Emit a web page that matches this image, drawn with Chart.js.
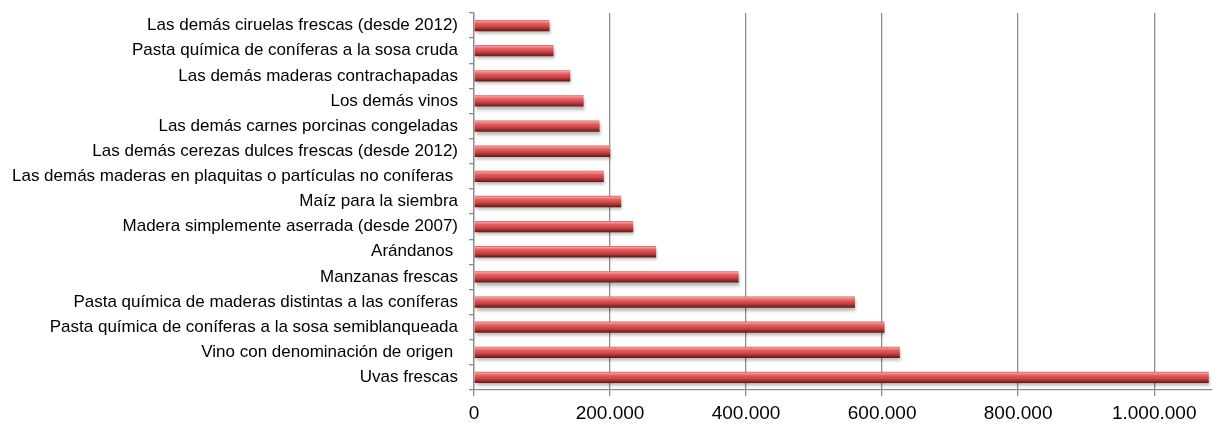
<!DOCTYPE html>
<html>
<head>
<meta charset="utf-8">
<script src="https://cdn.jsdelivr.net/npm/chart.js@4/dist/chart.umd.min.js"></script>
<style>
html,body{margin:0;padding:0;background:#fff;overflow:hidden;}
#wrap{width:1214px;height:426px;position:relative;}
</style>
</head>
<body>
<div id="wrap"><canvas id="c"></canvas></div>
<script>
const categories = [
  "Las demás ciruelas frescas (desde 2012)",
  "Pasta química de coníferas a la sosa cruda",
  "Las demás maderas contrachapadas",
  "Los demás vinos",
  "Las demás carnes porcinas congeladas",
  "Las demás cerezas dulces frescas (desde 2012)",
  "Las demás maderas en plaquitas o partículas no coníferas ",
  "Maíz para la siembra",
  "Madera simplemente aserrada (desde 2007)",
  "Arándanos ",
  "Manzanas frescas",
  "Pasta química de maderas distintas a las coníferas",
  "Pasta química de coníferas a la sosa semiblanqueada",
  "Vino con denominación de origen ",
  "Uvas frescas"
];
const values = [111000, 117000, 141600, 161100, 184600, 200300, 190900, 216400, 234100, 267800, 389100, 560100, 603500, 626100, 1080300];
const xTickValues = [0, 200000, 400000, 600000, 800000, 1000000];
const xMax = 1085000;

const BAR_PCT = 0.45;
function barGradient(context) {
  const chart = context.chart;
  const ys = chart.scales && chart.scales.y;
  if (!ys || context.dataIndex === undefined) return '#d64a4a';
  const yc = ys.getPixelForValue(context.dataIndex);
  const h = Math.abs(ys.getPixelForValue(1) - ys.getPixelForValue(0)) * BAR_PCT;
  if (!isFinite(yc) || !isFinite(h) || h <= 0) return '#d64a4a';
  const g = chart.ctx.createLinearGradient(0, yc - h / 2, 0, yc + h / 2);
  g.addColorStop(0, '#d65a5a');
  g.addColorStop(0.12, '#f39a9a');
  g.addColorStop(0.3, '#e56262');
  g.addColorStop(0.6, '#cf4343');
  g.addColorStop(0.8, '#9c2d2d');
  g.addColorStop(1, '#5c1818');
  return g;
}

const shadowPlugin = {
  id: 'shadow',
  beforeDatasetsDraw(chart) {
    const ctx = chart.ctx;
    ctx.save();
    ctx.shadowColor = 'rgba(0,0,0,0.28)';
    ctx.shadowBlur = 3;
    ctx.shadowOffsetX = 1;
    ctx.shadowOffsetY = 3;
  },
  afterDatasetsDraw(chart) {
    chart.ctx.restore();
  }
};

new Chart(document.getElementById('c'), {
  type: 'bar',
  data: {
    labels: categories,
    datasets: [{
      data: values,
      backgroundColor: barGradient,
      borderWidth: 0,
      barPercentage: BAR_PCT,
      categoryPercentage: 1
    }]
  },
  plugins: [shadowPlugin],
  options: {
    indexAxis: 'y',
    responsive: true,
    maintainAspectRatio: false,
    animation: false,
    layout: { padding: { top: 13, right: 2, left: 0, bottom: 0 } },
    plugins: { legend: { display: false }, tooltip: { enabled: false } },
    scales: {
      x: {
        min: 0,
        max: xMax,
        afterBuildTicks(scale) { scale.ticks = xTickValues.map(v => ({ value: v })); },
        ticks: {
          color: '#000',
          font: { family: 'Liberation Sans, Arial, sans-serif', size: 19 },
          padding: 6,
          callback: (v) => v.toLocaleString('de-DE')
        },
        grid: { color: '#8c8c8c', lineWidth: 1.3, tickLength: 6, drawTicks: true },
        border: { color: '#8c8c8c', width: 1.3 },
        afterFit(scale) { scale.height = 36; scale.paddingLeft = 0; scale.paddingRight = 0; }
      },
      y: {
        ticks: {
          color: '#000',
          font: { family: 'Liberation Sans, Arial, sans-serif', size: 17 },
          padding: 11,
          autoSkip: false
        },
        grid: { display: true, drawOnChartArea: false, offset: true, color: '#8c8c8c', tickLength: 5, lineWidth: 1.3 },
        border: { color: '#8c8c8c', width: 1.3 },
        afterFit(scale) { scale.width = 474; scale.paddingTop = 0; scale.paddingBottom = 0; }
      }
    }
  }
});
</script>
</body>
</html>
